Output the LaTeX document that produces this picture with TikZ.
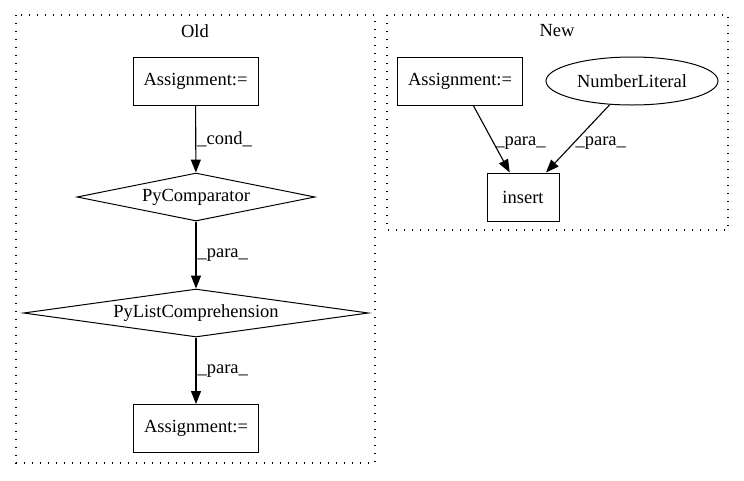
\documentclass[tikz,border=0pt]{standalone}
\usepackage{fontspec}
\setmainfont{Liberation Serif}
\usetikzlibrary{shapes.geometric,arrows.meta}

\begin{document}
\begin{tikzpicture}[x=1pt,y=-1pt,font=\fontsize{18.5}{21}\selectfont,
    box/.style={draw,rectangle,line width=1pt,minimum width=125pt,minimum height=48pt,inner sep=2pt},
    cond/.style={draw,diamond,line width=1pt,inner sep=0pt},
    lit/.style={draw,ellipse,line width=1pt,minimum width=172pt,minimum height=48pt,inner sep=0pt},
    cluster/.style={line width=1.3pt,dash pattern=on 1.3pt off 6.7pt},
    edge/.style={-{Triangle[length=13pt,width=10pt]},line width=1.1pt},
    lbl/.style={anchor=west,inner sep=1pt}]

      \useasboundingbox (0,0) rectangle (744,480);

      \draw[cluster] (16,15) rectangle (375,463);
      \node (old) at (195,31) {Old};

      \node[box] (asgA) at (195.5,81) {Assignment:=};
      \node[cond,minimum width=238pt,minimum height=48pt,aspect=5] (cmp) at (196,197) {PyComparator};
      \node[cond,minimum width=345pt,minimum height=48pt,aspect=7] (lcomp) at (196,313) {PyListComprehension};
      \node[box] (asgB) at (196,428.5) {Assignment:=};

      \draw[edge] (asgA) -- node[lbl] {\_cond\_} (cmp);
      \draw[edge] (cmp) -- node[lbl] {\_para\_} (lcomp);
      \draw[edge] (lcomp) -- node[lbl] {\_para\_} (asgB);

      \draw[cluster] (387,15) rectangle (728,230);
      \node (new) at (557,31) {New};

      \node[box] (asgC) at (460,81) {Assignment:=};
      \node[lit] (num) at (632,81) {NumberLiteral};
      \node[box,minimum width=72pt] (ins) at (523,197) {insert};

      \draw[edge] (asgC) -- node[lbl,pos=0.56] {\_para\_} (ins);
      \draw[edge] (num) -- node[lbl,pos=0.56] {\_para\_} (ins);

    \end{tikzpicture}
\end{document}
